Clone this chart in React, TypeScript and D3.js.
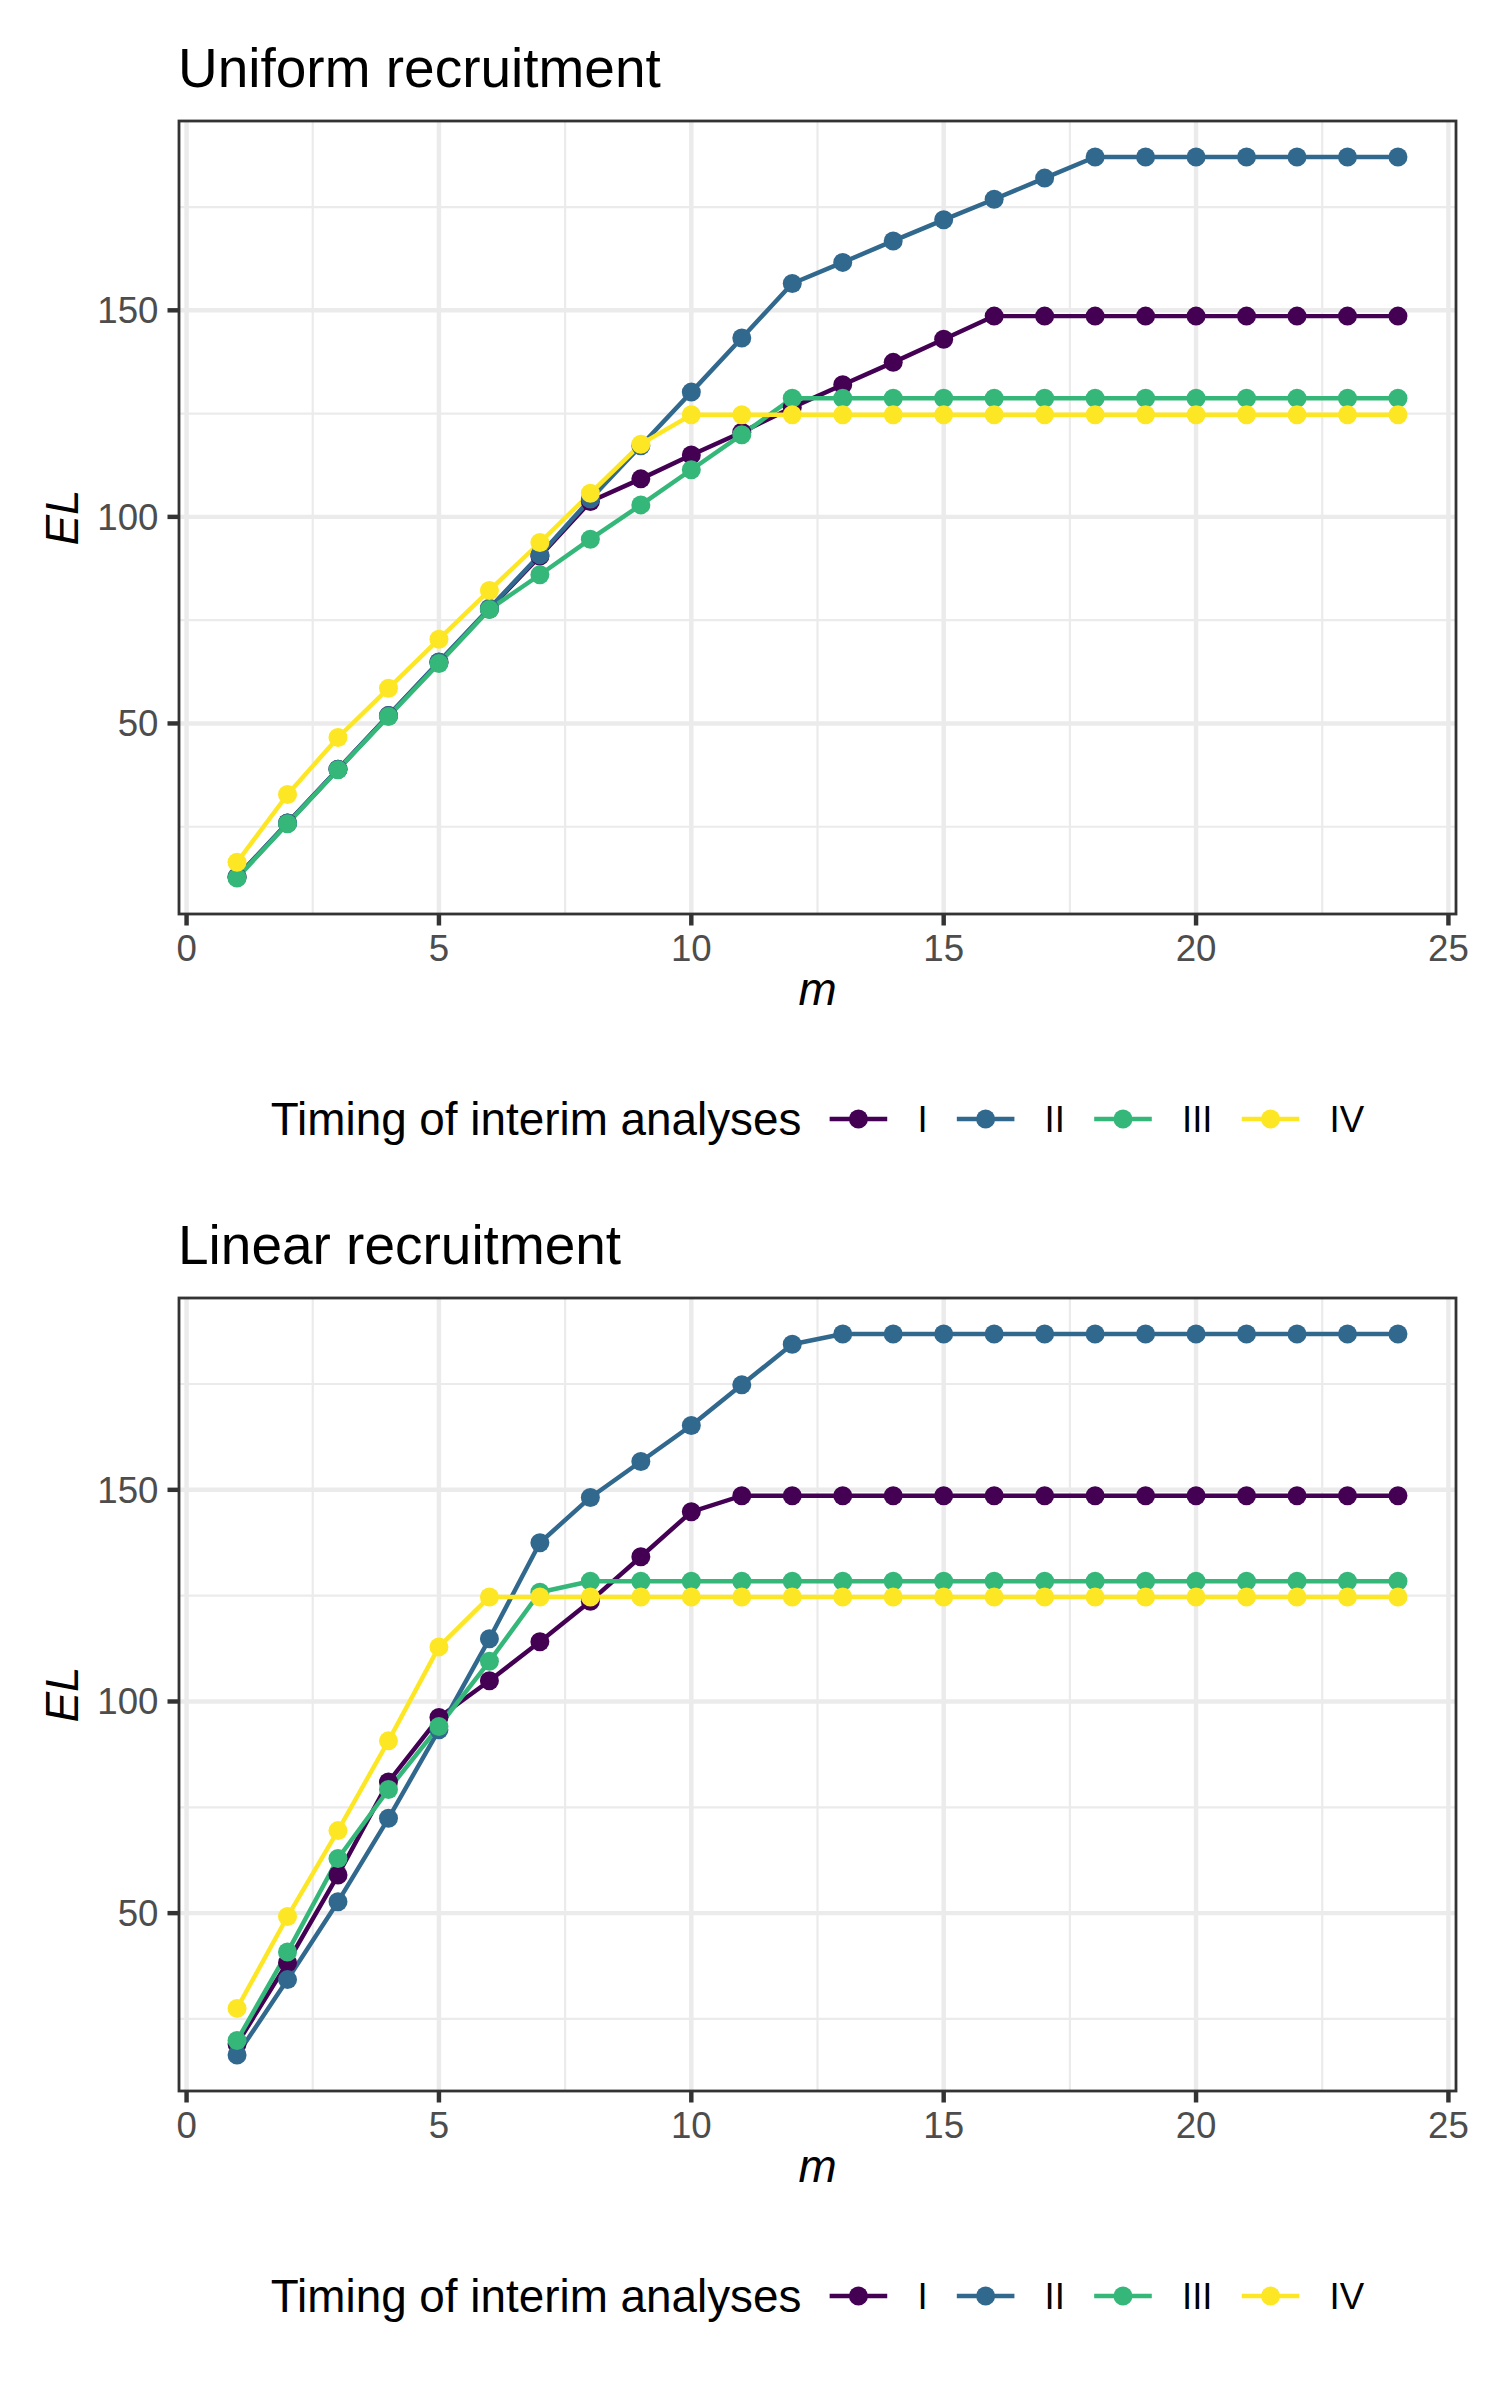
import * as d3 from 'd3'

const months = [1, 2, 3, 4, 5, 6, 7, 8, 9, 10, 11, 12, 13, 14, 15, 16, 17, 18, 19, 20, 21, 22, 23, 24]
const designs = ['I', 'II', 'III', 'IV']
const xTicks = [0, 5, 10, 15, 20, 25]
const yTicks = [50, 100, 150]

// expected loss, uniform recruitment
const uniformI = [12.8, 25.9, 38.9, 51.9, 64.8, 77.7, 90.5, 103.7, 109.2, 115.0, 120.5, 126.5, 132.0, 137.4, 143.0, 148.6, 148.6, 148.6, 148.6, 148.6, 148.6, 148.6, 148.6, 148.6]
const uniformII = [12.9, 25.9, 38.9, 51.9, 64.9, 77.9, 90.8, 104.3, 117.2, 130.2, 143.3, 156.5, 161.6, 166.8, 171.9, 176.9, 182.0, 187.1, 187.1, 187.1, 187.1, 187.1, 187.1, 187.1]
const uniformIII = [12.6, 25.7, 38.8, 51.7, 64.5, 77.6, 86.0, 94.6, 102.9, 111.4, 119.9, 128.7, 128.7, 128.7, 128.7, 128.7, 128.7, 128.7, 128.7, 128.7, 128.7, 128.7, 128.7, 128.7]
const uniformIV = [16.4, 32.8, 46.6, 58.5, 70.4, 82.2, 93.8, 105.7, 117.6, 124.7, 124.7, 124.7, 124.7, 124.7, 124.7, 124.7, 124.7, 124.7, 124.7, 124.7, 124.7, 124.7, 124.7, 124.7]

// expected loss, linear recruitment
const linearI = [19.1, 38.3, 59.0, 81.0, 96.2, 104.9, 114.1, 123.7, 134.2, 144.8, 148.6, 148.6, 148.6, 148.6, 148.6, 148.6, 148.6, 148.6, 148.6, 148.6, 148.6, 148.6, 148.6, 148.6]
const linearII = [16.5, 34.3, 52.7, 72.4, 93.3, 114.8, 137.5, 148.2, 156.7, 165.2, 174.8, 184.4, 186.8, 186.8, 186.8, 186.8, 186.8, 186.8, 186.8, 186.8, 186.8, 186.8, 186.8, 186.8]
const linearIII = [19.9, 40.8, 62.9, 79.2, 94.1, 109.5, 125.8, 128.4, 128.4, 128.4, 128.4, 128.4, 128.4, 128.4, 128.4, 128.4, 128.4, 128.4, 128.4, 128.4, 128.4, 128.4, 128.4, 128.4]
const linearIV = [27.5, 49.2, 69.5, 90.7, 112.9, 124.7, 124.7, 124.7, 124.7, 124.7, 124.7, 124.7, 124.7, 124.7, 124.7, 124.7, 124.7, 124.7, 124.7, 124.7, 124.7, 124.7, 124.7, 124.7]

const colors = ['#440154', '#31688E', '#35B779', '#FDE725']

const W = 1500
const H = 2400
const FONT = '"Liberation Sans", Arial, Helvetica, sans-serif'
const BASE = 45.83
const SMALL = BASE * 0.8
const TITLE = BASE * 1.2

const panel = { left: 179, right: 1456, top: 121, bottom: 914 }
const tickLen = 11.5

let ctx: CanvasRenderingContext2D | null = null
function textWidth(s: string, size: number) {
  if (!ctx) ctx = document.createElement('canvas').getContext('2d')
  if (!ctx) return s.length * size * 0.5
  ctx.font = `${size}px ${FONT}`
  return ctx.measureText(s).width
}

function expand(vals: number[]): [number, number] {
  const [lo, hi] = d3.extent(vals) as [number, number]
  const pad = (hi - lo) * 0.05
  return [lo - pad, hi + pad]
}

function Chart({ title, series, offsetY }: { title: string; series: number[][]; offsetY: number }) {
  const x = d3.scaleLinear().domain(expand(months)).range([panel.left, panel.right])
  const y = d3.scaleLinear().domain(expand(series.flat())).range([panel.bottom, panel.top])

  const xMinor = d3.range(2.5, 25, 5).filter((v) => v > x.domain()[0] && v < x.domain()[1])
  const yMinor = d3.range(25, 200, 50).filter((v) => v > y.domain()[0] && v < y.domain()[1])

  const line = d3
    .line<number>()
    .x((d, i) => x(months[i]))
    .y((d) => y(d))

  // legend layout, centred on panel
  const titleW = textWidth('Timing of interim analyses', BASE)
  const keyW = 72
  const labelWs = designs.map((d) => textWidth(d, SMALL))
  const total = titleW + 21 + designs.length * (keyW + 23) + d3.sum(labelWs) + (designs.length - 1) * 22
  let cursor = (panel.left + panel.right) / 2 - total / 2
  const legendTitleX = cursor
  cursor += titleW + 21
  const keys = designs.map((d, i) => {
    const k = { name: d, color: colors[i], x0: cursor, labelX: cursor + keyW + 23 }
    cursor += keyW + 23 + labelWs[i] + 22
    return k
  })
  const legendY = 1119

  return (
    <g transform={`translate(0,${offsetY})`}>
      <text x={panel.left - 1} y={87} fontSize={TITLE} fontFamily={FONT} fill="#000">
        {title}
      </text>

      <rect x={panel.left} y={panel.top} width={panel.right - panel.left} height={panel.bottom - panel.top} fill="#fff" />
      {xMinor.map((v) => (
        <line key={'xm' + v} x1={x(v)} x2={x(v)} y1={panel.top} y2={panel.bottom} stroke="#EBEBEB" strokeWidth={2.2} />
      ))}
      {yMinor.map((v) => (
        <line key={'ym' + v} x1={panel.left} x2={panel.right} y1={y(v)} y2={y(v)} stroke="#EBEBEB" strokeWidth={2.2} />
      ))}
      {xTicks.map((v) => (
        <line key={'xg' + v} x1={x(v)} x2={x(v)} y1={panel.top} y2={panel.bottom} stroke="#EBEBEB" strokeWidth={4.45} />
      ))}
      {yTicks.map((v) => (
        <line key={'yg' + v} x1={panel.left} x2={panel.right} y1={y(v)} y2={y(v)} stroke="#EBEBEB" strokeWidth={4.45} />
      ))}

      {series.map((s, i) => (
        <path key={'l' + i} d={line(s) ?? ''} fill="none" stroke={colors[i]} strokeWidth={4.45} strokeLinejoin="round" />
      ))}
      {series.map((s, i) => (
        <g key={'p' + i}>
          {s.map((v, j) => (
            <circle key={j} cx={x(months[j])} cy={y(v)} r={9.5} fill={colors[i]} />
          ))}
        </g>
      ))}

      <rect
        x={panel.left}
        y={panel.top}
        width={panel.right - panel.left}
        height={panel.bottom - panel.top}
        fill="none"
        stroke="#333333"
        strokeWidth={2.8}
      />

      {xTicks.map((v) => (
        <g key={'xt' + v}>
          <line x1={x(v)} x2={x(v)} y1={panel.bottom} y2={panel.bottom + tickLen} stroke="#333333" strokeWidth={4.45} />
          <text x={x(v)} y={961} textAnchor="middle" fontSize={SMALL} fontFamily={FONT} fill="#4D4D4D">
            {v}
          </text>
        </g>
      ))}
      {yTicks.map((v) => (
        <g key={'yt' + v}>
          <line x1={panel.left - tickLen} x2={panel.left} y1={y(v)} y2={y(v)} stroke="#333333" strokeWidth={4.45} />
          <text x={panel.left - tickLen - 9} y={y(v) + 13} textAnchor="end" fontSize={SMALL} fontFamily={FONT} fill="#4D4D4D">
            {v}
          </text>
        </g>
      ))}

      <text x={(panel.left + panel.right) / 2} y={1005} textAnchor="middle" fontSize={BASE} fontStyle="italic" fontFamily={FONT}>
        m
      </text>
      <text
        transform={`translate(78,${(panel.top + panel.bottom) / 2}) rotate(-90)`}
        textAnchor="middle"
        fontSize={BASE}
        fontStyle="italic"
        fontFamily={FONT}
      >
        EL
      </text>

      <text x={legendTitleX} y={legendY + 16.4} fontSize={BASE} fontFamily={FONT} fill="#000">
        Timing of interim analyses
      </text>
      {keys.map((k) => (
        <g key={k.name}>
          <line x1={k.x0 + keyW * 0.1} x2={k.x0 + keyW * 0.9} y1={legendY} y2={legendY} stroke={k.color} strokeWidth={4.45} />
          <circle cx={k.x0 + keyW / 2} cy={legendY} r={9.5} fill={k.color} />
          <text x={k.labelX} y={legendY + 13} fontSize={SMALL} fontFamily={FONT} fill="#000">
            {k.name}
          </text>
        </g>
      ))}
    </g>
  )
}

export default function App() {
  return (
    <div style={{ position: 'absolute', left: 0, top: 0 }}>
      <svg width={W} height={H} viewBox={`0 0 ${W} ${H}`} style={{ display: 'block', background: '#fff' }}>
        <rect width={W} height={H} fill="#fff" />
        <Chart title="Uniform recruitment" series={[uniformI, uniformII, uniformIII, uniformIV]} offsetY={0} />
        <Chart title="Linear recruitment" series={[linearI, linearII, linearIII, linearIV]} offsetY={1177} />
      </svg>
    </div>
  )
}
